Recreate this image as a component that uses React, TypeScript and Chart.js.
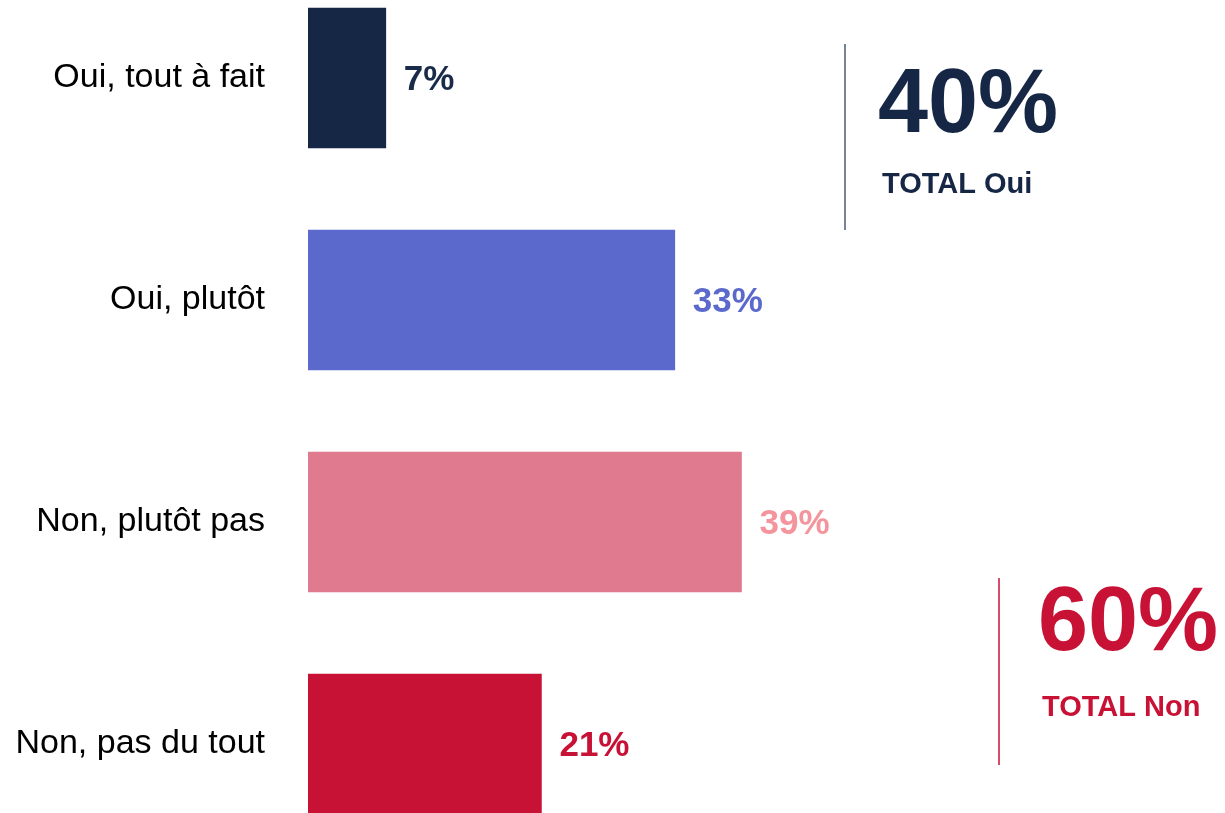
import React, { useEffect, useRef } from "react";
import { Chart, registerables } from "chart.js";

Chart.register(...registerables);

const categories = ["Oui, tout à fait", "Oui, plutôt", "Non, plutôt pas", "Non, pas du tout"];
const values = [7, 33, 39, 21];
const barColors = ["#162745", "#5b69cc", "#e07a8e", "#c81235"];
const valueLabelColors = ["#1a2b4a", "#5b69cc", "#f4949c", "#c81235"];
const totalLabels = ["TOTAL Oui", "TOTAL Non"];
const totalValues = [40, 60];
const totalColors = ["#162745", "#c81235"];

const OFFSET_Y = 33;

export default function App() {
  const ref = useRef<HTMLCanvasElement | null>(null);

  useEffect(() => {
    if (!ref.current) return;
    const annotations = {
      id: "annotations",
      afterDatasetsDraw(chart: any) {
        const ctx = chart.ctx;
        const meta = chart.getDatasetMeta(0);
        ctx.save();
        // value labels
        ctx.font = "bold 35px 'Liberation Sans', Arial, sans-serif";
        ctx.textBaseline = "middle";
        ctx.textAlign = "left";
        meta.data.forEach((bar: any, i: number) => {
          ctx.fillStyle = valueLabelColors[i];
          ctx.fillText(values[i] + "%", bar.x + 18, bar.y + 2);
        });
        // totals
        const blocks = [
          { lineX: 845, lineTop: 44, lineBottom: 230, textX: 878, bigBase: 132, smallBase: 193, lineColor: "#4a5a75" },
          { lineX: 999, lineTop: 578, lineBottom: 765, textX: 1038, bigBase: 650, smallBase: 716, lineColor: "#c81235" },
        ];
        blocks.forEach((b, i) => {
          ctx.strokeStyle = b.lineColor;
          ctx.lineWidth = 1.5;
          ctx.beginPath();
          ctx.moveTo(b.lineX, b.lineTop + OFFSET_Y);
          ctx.lineTo(b.lineX, b.lineBottom + OFFSET_Y);
          ctx.stroke();
          ctx.fillStyle = totalColors[i];
          ctx.textBaseline = "alphabetic";
          ctx.font = "bold 90px 'Liberation Sans', Arial, sans-serif";
          ctx.fillText(totalValues[i] + "%", b.textX, b.bigBase + OFFSET_Y);
          ctx.font = "bold 29px 'Liberation Sans', Arial, sans-serif";
          ctx.fillText(totalLabels[i], b.textX + 4, b.smallBase + OFFSET_Y);
        });
        ctx.restore();
      },
    };

    const chart = new Chart(ref.current, {
      type: "bar",
      data: {
        labels: categories,
        datasets: [
          {
            data: values,
            backgroundColor: barColors,
            borderWidth: 0,
            barThickness: 140,
          },
        ],
      },
      options: {
        indexAxis: "y",
        animation: false,
        responsive: false,
        maintainAspectRatio: false,
        layout: { padding: 0 },
        plugins: {
          legend: { display: false },
          tooltip: { enabled: false },
        },
        scales: {
          x: {
            display: false,
            min: 0,
            max: 82.5,
          },
          y: {
            grid: { display: false, drawTicks: false },
            border: { display: false },
            ticks: {
              color: "#000000",
              padding: 43,
              font: { family: "'Liberation Sans', Arial, sans-serif", size: 34 },
            },
            afterFit(scale: any) {
              scale.width = 308;
              scale.paddingTop = 0;
              scale.paddingBottom = 0;
            },
          },
        },
      },
      plugins: [annotations],
    });
    return () => chart.destroy();
  }, []);

  return (
    <div style={{ position: "fixed", left: 0, top: -OFFSET_Y, width: 1225, height: 888 }}>
      <canvas ref={ref} width={1225} height={888} style={{ width: 1225, height: 888 }} />
    </div>
  );
}
